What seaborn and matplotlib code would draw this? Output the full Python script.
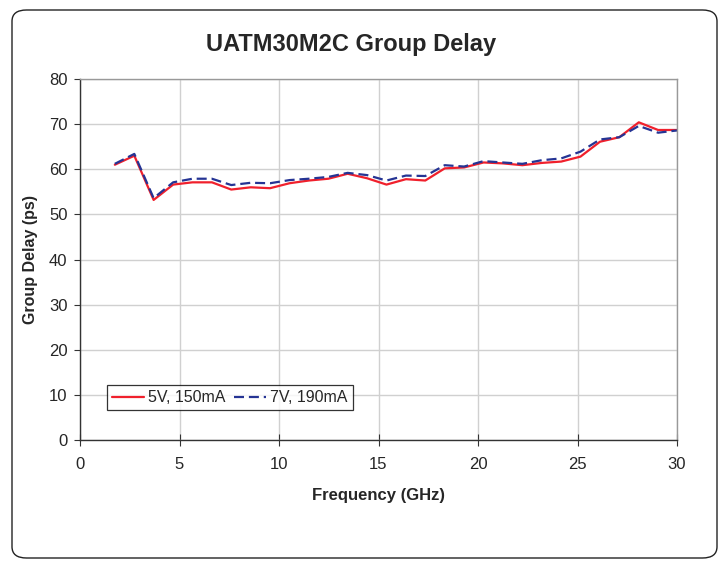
import matplotlib.pyplot as plt
import numpy as np
import pandas as pd
import seaborn as sns
from matplotlib.patches import FancyBboxPatch

# frequency points (GHz)
freq = [1.75, 2.73, 3.7, 4.68, 5.65, 6.63, 7.6, 8.58, 9.55, 10.53,
        11.5, 12.48, 13.45, 14.43, 15.4, 16.38, 17.35, 18.33, 19.3, 20.28,
        21.25, 22.23, 23.2, 24.18, 25.15, 26.13, 27.1, 28.08, 29.05, 30.0]

# group delay (ps)
delay_5v = [61.0, 63.0, 53.2, 56.6, 57.1, 57.1, 55.5, 56.0, 55.8, 56.9,
            57.5, 57.9, 59.0, 58.0, 56.6, 57.8, 57.5, 60.2, 60.4, 61.5,
            61.3, 60.9, 61.4, 61.7, 62.8, 66.1, 67.1, 70.4, 68.7, 68.7]
delay_7v = [61.2, 63.4, 53.6, 57.1, 57.9, 57.9, 56.5, 57.0, 56.9, 57.6,
            57.9, 58.3, 59.2, 58.7, 57.5, 58.6, 58.5, 60.9, 60.6, 61.8,
            61.5, 61.2, 62.0, 62.4, 63.9, 66.6, 67.1, 69.6, 68.1, 68.6]

labels = ["5V, 150mA", "7V, 190mA"]
x_ticks = [0, 5, 10, 15, 20, 25, 30]
y_ticks = [0, 10, 20, 30, 40, 50, 60, 70, 80]

df = pd.DataFrame({
    "freq": freq * 2,
    "delay": delay_5v + delay_7v,
    "bias": [labels[0]] * len(freq) + [labels[1]] * len(freq),
})

sns.set_style("white")
plt.rcParams["font.family"] = ["Liberation Sans", "DejaVu Sans"]

fig = plt.figure(figsize=(7.27, 5.64), dpi=100)
ax = fig.add_axes([80 / 727, 1 - 440 / 564, 597 / 727, 361 / 564])

# rounded outer frame
fig.patches.append(FancyBboxPatch(
    (12 / 727, 6 / 564), 705 / 727, 548 / 564,
    boxstyle="round,pad=0,rounding_size=0.02",
    transform=fig.transFigure, facecolor="none", edgecolor="#222222",
    linewidth=1.0))

sns.lineplot(data=df, x="freq", y="delay", hue="bias", style="bias",
             palette=["#f0202c", "#253494"],
             dashes=[(None, None), (4.5, 2.2)], linewidth=1.6, ax=ax)

ax.set_xlim(0, 30)
ax.set_ylim(0, 80)
ax.set_xticks(x_ticks)
ax.set_yticks(y_ticks)
ax.grid(True, color="#d0d0d0", linewidth=1.0)
ax.set_axisbelow(True)
ax.tick_params(axis="x", direction="inout", length=8, width=0.8,
               color="#333333", labelsize=12, pad=8, bottom=True)
ax.tick_params(axis="y", direction="out", length=4, width=0.8,
               color="#333333", labelsize=12, pad=5, left=True)

for side in ["top", "right"]:
    ax.spines[side].set_color("#999999")
    ax.spines[side].set_linewidth(1.0)
for side in ["left", "bottom"]:
    ax.spines[side].set_color("#333333")
    ax.spines[side].set_linewidth(1.0)

ax.set_xlabel("Frequency (GHz)", fontsize=12, fontweight="bold", labelpad=12)
ax.set_ylabel("Group Delay (ps)", fontsize=11.5, fontweight="bold", labelpad=8)
fig.text(351 / 727, 1 - 45 / 564, "UATM30M2C Group Delay", fontsize=17,
         fontweight="bold", ha="center", va="center")

handles, _ = ax.get_legend_handles_labels()
leg = ax.legend(handles=handles, labels=labels, ncol=2, loc="lower left",
                bbox_to_anchor=(0.045, 0.083), frameon=True, fancybox=False,
                edgecolor="black", fontsize=11.5, handlelength=2.0,
                columnspacing=0.5, handletextpad=0.3, borderpad=0.3,
                borderaxespad=0)
leg.get_frame().set_linewidth(0.9)

fig.savefig("out.png", dpi=100)
plt.close(fig)
